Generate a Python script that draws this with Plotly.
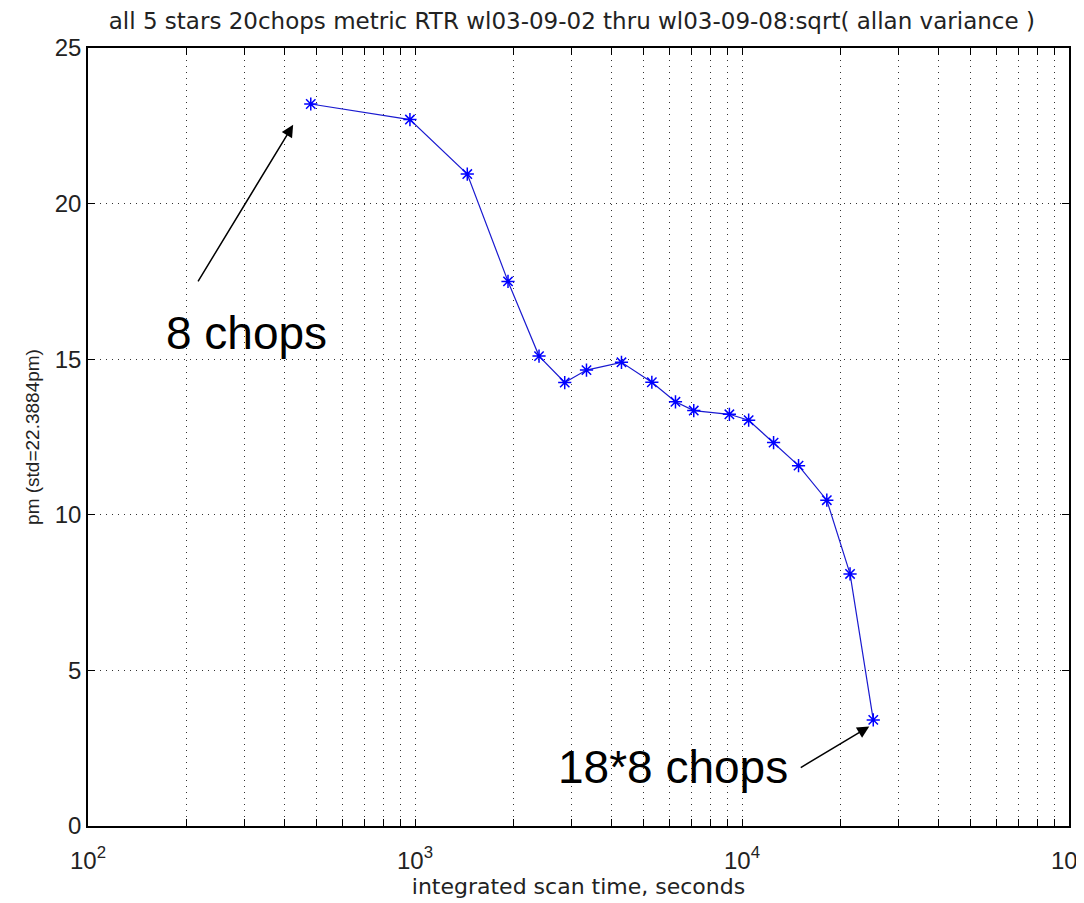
import math
import plotly.graph_objects as go

# data
scan_time = [480, 965, 1445, 1925, 2395, 2870, 3345, 4280, 5300, 6260,
             7120, 9150, 10480, 12490, 14890, 18170, 21400, 25200]
pm_values = [23.20, 22.70, 20.95, 17.50, 15.10, 14.25, 14.65, 14.90, 14.26, 13.63,
             13.35, 13.23, 13.04, 12.32, 11.58, 10.47, 8.10, 3.41]

x_tick_vals = [m * 10 ** e for e in (2, 3, 4) for m in range(1, 10)] + [100000]
x_major = {100: "10<sup>2</sup>", 1000: "10<sup>3</sup>", 10000: "10<sup>4</sup>", 100000: "10<sup>5</sup>"}
x_tick_text = [x_major.get(v, "") for v in x_tick_vals]
y_tick_vals = [0, 5, 10, 15, 20, 25]

title_text = "all 5 stars 20chops metric RTR wl03-09-02 thru wl03-09-08:sqrt( allan variance )"
x_title = "integrated scan time, seconds"
y_title = "pm (std=22.3884pm)"

fig = go.Figure()
fig.add_trace(go.Scatter(
    x=scan_time, y=pm_values, mode="lines+markers",
    line=dict(color="#1a1ad0", width=1.2),
    marker=dict(symbol="asterisk-open", size=11, color="#0000ff", line=dict(color="#0000ff", width=1.5)),
    showlegend=False,
))

font_main = "Liberation Sans, Arial, sans-serif"
font_wide = "DejaVu Sans, Verdana, sans-serif"

fig.update_layout(
    width=1076, height=895,
    paper_bgcolor="white", plot_bgcolor="white",
    margin=dict(l=80, r=15, t=40, b=77, autoexpand=False),
    title=dict(text=title_text, x=0.524, xanchor="center", xref="container",
               y=0.986, yanchor="middle", yref="container",
               font=dict(family=font_wide, size=23, color="#222")),
    font=dict(family=font_main, color="#222"),
)

grid_dash = "1px,5px"
fig.update_xaxes(
    type="log", range=[2, 5],
    tickvals=x_tick_vals, ticktext=x_tick_text,
    ticks="inside", ticklen=7, tickcolor="black",
    showgrid=True, gridcolor="#333", griddash=grid_dash, gridwidth=1,
    showline=True, linecolor="black", linewidth=1.5, mirror="ticks",
    tickfont=dict(size=24, family=font_main), zeroline=False,
    ticklabelstandoff=12, ticklabeloverflow="allow",
    title=dict(text=x_title, font=dict(size=22, family=font_wide), standoff=2),
    automargin=False,
)
fig.update_yaxes(
    range=[0, 25], tickvals=y_tick_vals,
    ticks="inside", ticklen=7, tickcolor="black",
    showgrid=True, gridcolor="#333", griddash=grid_dash, gridwidth=1,
    showline=True, linecolor="black", linewidth=1.5, mirror="ticks",
    tickfont=dict(size=24, family=font_main), zeroline=False,
    title=dict(text=y_title, font=dict(size=19, family=font_main), standoff=10),
    automargin=False,
)

ann_font = dict(family=font_main, size=46, color="black")
fig.add_annotation(x=math.log10(306), y=15.85, text="8 chops", showarrow=False,
                   font=ann_font, xanchor="center", yanchor="middle")
fig.add_annotation(x=math.log10(424), y=22.53, text="", showarrow=True,
                   ax=-96, ay=158, arrowhead=2, arrowsize=1.6, arrowwidth=1.5, arrowcolor="black")
fig.add_annotation(x=math.log10(6150), y=1.9, text="18*8 chops", showarrow=False,
                   font=ann_font, xanchor="center", yanchor="middle")
fig.add_annotation(x=math.log10(24500), y=3.2, text="", showarrow=True,
                   ax=-70, ay=42, arrowhead=2, arrowsize=1.6, arrowwidth=1.5, arrowcolor="black")

fig.write_html("out.html")
